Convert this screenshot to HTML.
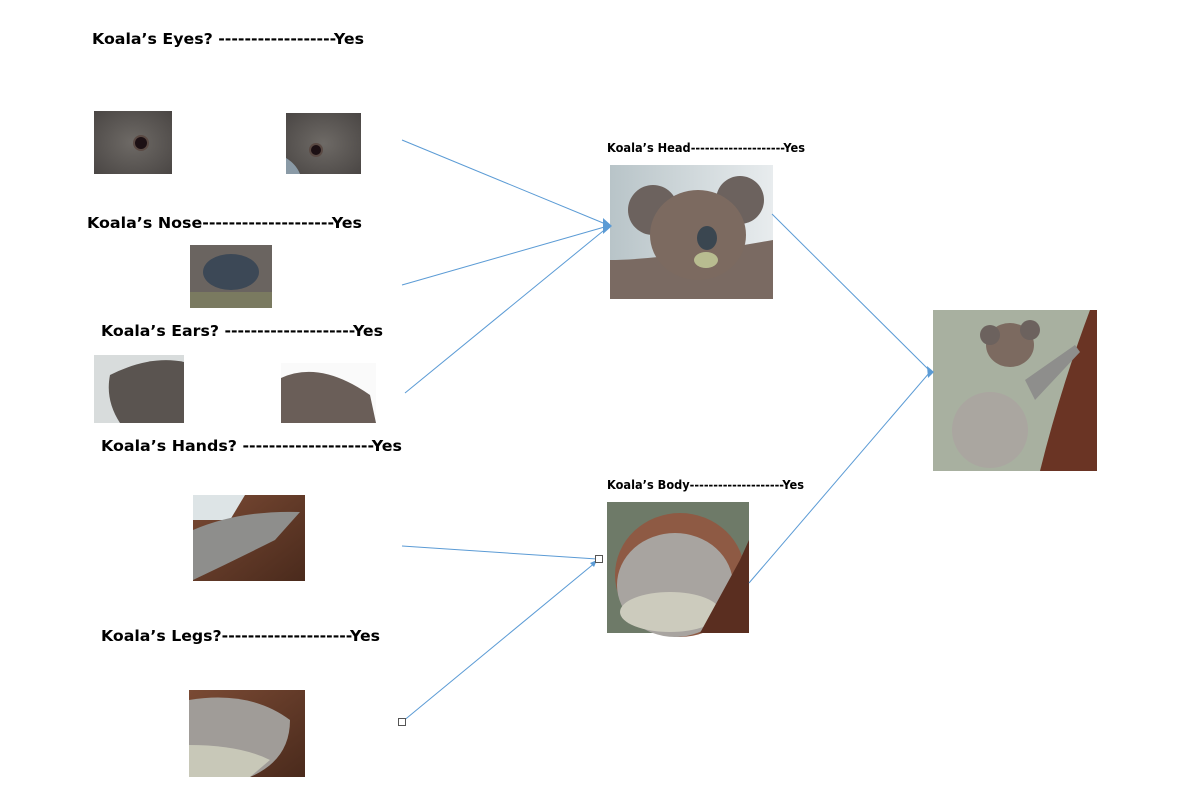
<!DOCTYPE html>
<html><head><meta charset="utf-8"><style>
body{margin:0;background:#fff;width:1189px;height:786px;overflow:hidden}
svg{display:block}
text{font-family:"DejaVu Sans","Liberation Sans",sans-serif;font-weight:bold;fill:#000}
</style></head><body>
<svg width="1189" height="786" viewBox="0 0 1189 786" xmlns="http://www.w3.org/2000/svg">
<defs>
<radialGradient id="fur" cx="50%" cy="50%" r="70%"><stop offset="0" stop-color="#6e6a66"/><stop offset="1" stop-color="#4a4644"/></radialGradient>
<linearGradient id="bark" x1="0" y1="0" x2="1" y2="1"><stop offset="0" stop-color="#7a4a34"/><stop offset="1" stop-color="#4a2a1c"/></linearGradient>
<linearGradient id="bg" x1="0" y1="0" x2="1" y2="0"><stop offset="0" stop-color="#b8c4c8"/><stop offset="1" stop-color="#e8ecee"/></linearGradient>
</defs>
<g font-size="15">
<text x="92" y="44" textLength="272" lengthAdjust="spacingAndGlyphs">Koala’s Eyes? ------------------Yes</text>
<text x="87" y="228" textLength="275" lengthAdjust="spacingAndGlyphs">Koala’s Nose--------------------Yes</text>
<text x="101" y="336" textLength="282" lengthAdjust="spacingAndGlyphs">Koala’s Ears? --------------------Yes</text>
<text x="101" y="451" textLength="301" lengthAdjust="spacingAndGlyphs">Koala’s Hands? --------------------Yes</text>
<text x="101" y="641" textLength="279" lengthAdjust="spacingAndGlyphs">Koala’s Legs?--------------------Yes</text>
</g>
<g font-size="12">
<text x="607" y="152" textLength="198" lengthAdjust="spacingAndGlyphs">Koala’s Head--------------------Yes</text>
<text x="607" y="489" textLength="197" lengthAdjust="spacingAndGlyphs">Koala’s Body--------------------Yes</text>
</g>
<rect x="94" y="111" width="78" height="63" fill="url(#fur)"/>
<circle cx="141" cy="143" r="8" fill="#5a4a44"/><circle cx="141" cy="143" r="6" fill="#1c1014"/>
<rect x="286" y="113" width="75" height="61" fill="url(#fur)"/>
<circle cx="316" cy="150" r="7" fill="#5a4a44"/><circle cx="316" cy="150" r="5" fill="#1c1014"/>
<path d="M286 158 Q296 164 300 174 L286 174Z" fill="#8a9aa6"/>
<rect x="190" y="245" width="82" height="63" fill="#6a6460"/>
<ellipse cx="231" cy="272" rx="28" ry="18" fill="#3c4856"/>
<rect x="190" y="292" width="82" height="16" fill="#7a7a60"/>
<rect x="94" y="355" width="90" height="68" fill="#d8dcdc"/>
<path d="M110 375 Q150 355 184 362 L184 423 L120 423 Q105 400 110 375Z" fill="#5a5450"/>
<rect x="281" y="363" width="95" height="60" fill="#fafafa"/>
<path d="M281 378 Q320 360 370 395 L376 423 L281 423Z" fill="#6a5e58"/>
<rect x="193" y="495" width="112" height="86" fill="url(#bark)"/>
<path d="M193 495 L245 495 L230 520 L193 520Z" fill="#dde4e6"/>
<path d="M193 530 Q240 510 300 512 L275 540 Q235 560 193 580Z" fill="#8e8e8c"/>
<rect x="189" y="690" width="116" height="87" fill="url(#bark)"/>
<path d="M189 700 Q250 690 290 720 Q290 760 250 777 L189 777Z" fill="#a09c98"/>
<path d="M189 745 Q240 745 270 760 L250 777 L189 777Z" fill="#c8c8b8"/>
<rect x="610" y="165" width="163" height="134" fill="url(#bg)"/>
<path d="M610 260 Q660 260 773 240 L773 299 L610 299Z" fill="#7a6a62"/>
<circle cx="653" cy="210" r="25" fill="#6c625e"/><circle cx="740" cy="200" r="24" fill="#6c625e"/>
<ellipse cx="698" cy="235" rx="48" ry="45" fill="#7c6a60"/>
<ellipse cx="707" cy="238" rx="10" ry="12" fill="#3a4650"/>
<ellipse cx="706" cy="260" rx="12" ry="8" fill="#b8bc90"/>
<rect x="607" y="502" width="142" height="131" fill="#6e7a68"/>
<ellipse cx="680" cy="575" rx="65" ry="62" fill="#8e5a44"/>
<ellipse cx="675" cy="585" rx="58" ry="52" fill="#a8a4a0"/>
<ellipse cx="670" cy="612" rx="50" ry="20" fill="#cccbbd"/>
<path d="M740 560 L749 540 L749 633 L700 633Z" fill="#5a2e20"/>
<rect x="933" y="310" width="164" height="161" fill="#a8b0a0"/>
<path d="M1040 471 Q1060 390 1090 310 L1097 310 L1097 471Z" fill="#6a3424"/>
<ellipse cx="990" cy="430" rx="38" ry="38" fill="#aaa6a0"/>
<ellipse cx="1010" cy="345" rx="24" ry="22" fill="#7c6a60"/>
<circle cx="990" cy="335" r="10" fill="#6c625e"/><circle cx="1030" cy="330" r="10" fill="#6c625e"/>
<path d="M1025 380 L1075 345 L1080 352 L1035 400Z" fill="#8e8e8c"/>
<g stroke="#5b9bd5" stroke-width="1" fill="none">
<line x1="402" y1="140" x2="608" y2="225"/>
<line x1="402" y1="285" x2="608" y2="226"/>
<line x1="405" y1="393" x2="608" y2="227"/>
<line x1="402" y1="546" x2="597" y2="559"/>
<line x1="402" y1="722" x2="596" y2="562"/>
<line x1="772" y1="214" x2="930" y2="371"/>
<line x1="749" y1="583" x2="930" y2="372"/>
</g>
<path d="M603 218 L612 226 L603 234 Z" fill="#5b9bd5"/>
<path d="M927 366 L934 372 L928 378Z" fill="#5b9bd5"/>
<path d="M590 563 L597 560 L594 567Z" fill="#5b9bd5"/>
<rect x="398.5" y="718.5" width="7" height="7" fill="#fff" stroke="#555"/>
<rect x="595.5" y="555.5" width="7" height="7" fill="#fff" stroke="#555"/>
</svg>
</body></html>
